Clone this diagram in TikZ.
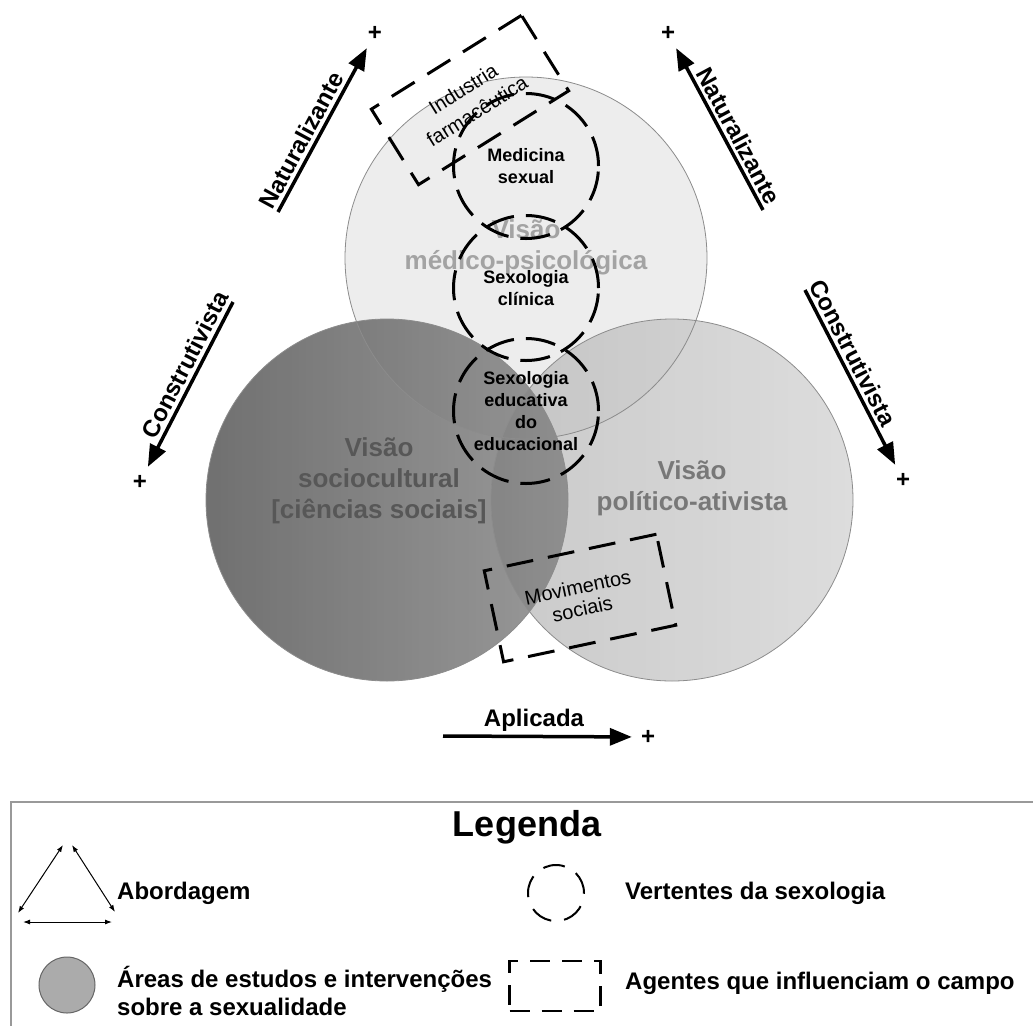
\documentclass[tikz,border=0pt]{standalone}
\usepackage{fontspec}
\setmainfont{Liberation Sans}
\usetikzlibrary{arrows.meta}
\definecolor{rim}{gray}{0.55}
\tikzset{
  area/.style={circle, minimum size=362pt, inner sep=0pt},
  vertente/.style={circle, draw, line width=3pt, dash pattern=on 30pt off 12pt, minimum size=145pt, inner sep=0pt, align=center, font=\fontsize{18}{22}\selectfont\bfseries},
  agente/.style={draw, line width=3pt, dash pattern=on 27pt off 15pt, align=center},
  eixo/.style={line width=3.5pt, -{Triangle[length=22pt,width=17pt]}, shorten >=9pt},
  rotulo/.style={font=\fontsize{24}{24}\selectfont\bfseries},
  mais/.style={font=\fontsize{24}{24}\selectfont\bfseries, inner sep=0pt},
  visao/.style={align=center, font=\fontsize{26}{31}\selectfont\bfseries},
  legenda/.style={anchor=west, align=left, inner sep=0pt, font=\fontsize{24}{28}\selectfont\bfseries},
  tri/.style={line width=1pt, {Latex[length=7pt,width=5pt]}-{Latex[length=7pt,width=5pt]}},
}
\begin{document}
\begin{tikzpicture}[x=1pt, y=-1pt]
      \useasboundingbox (0,0) rectangle (1033,1026);
      \node[area, fill=black!7] (medpsi) at (526,258) {};
      \node[area, left color=black!28, right color=black!18, fill opacity=0.75] (polit) at (672,500) {};
      \node[area, left color=black!70, right color=black!50, fill opacity=0.8] (socio) at (387,500) {};
      \begin{scope}[draw=rim, line width=0.8pt]
        \draw (medpsi.center) circle (181);
        \draw (socio.center) circle (181);
        \draw (polit.center) circle (181);
      \end{scope}
      \node[visao, text=black!36] (tmedpsi) at (526,247) {Visão\\médico-psicológica};
      \node[visao, text=black!66] (tsocio) at (379,481) {Visão\\sociocultural\\{[}ciências sociais{]}};
      \node[visao, text=black!53] (tpolit) at (692,488) {Visão\\político-ativista};
      \node[vertente] (medsex) at (526,166) {Medicina\\sexual};
      \node[vertente] (clin) at (526,288) {Sexologia\\clínica};
      \node[vertente] (educ) at (526,411) {Sexologia\\educativa\\do\\educacional};
      \node[agente, rotate=32, minimum width=177pt, minimum height=89pt, font=\fontsize{20}{26}\selectfont] (ind) at (470,100) {Industria\\farmacêutica};
      \node[agente, rotate=12, minimum width=176pt, minimum height=93pt, font=\fontsize{20}{22}\selectfont] (mov) at (580,598) {Movimentos\\sociais};
      \draw
        (375,33) node[mais] (p1){+}
        (140,482) node[mais] (p2){+}
        (668,33) node[mais] (p3){+}
        (903,480) node[mais] (p4){+}
        (648,737) node[mais] (p5){+};
      \coordinate (e1) at (278,212);
      \coordinate (e2) at (233,302);
      \coordinate (e3) at (763,210);
      \coordinate (e4) at (805,290);
      \coordinate (e5) at (443,736);
      \begin{scope}[eixo]
        \draw (e1) to node[rotulo, sloped, above, pos=0.38] (l1) {Naturalizante} (p1);
        \draw (e2) to node[rotulo, sloped, above, pos=0.40] (l2) {Construtivista} (p2);
        \draw (e3) to node[rotulo, sloped, above, pos=0.40] (l3) {Naturalizante} (p3);
        \draw (e4) to node[rotulo, sloped, above, pos=0.38] (l4) {Construtivista} (p4);
        \draw (e5) to node[rotulo, above, pos=0.46] (l5) {Aplicada} (p5);
      \end{scope}
      \draw[draw=black!40, line width=2.5pt] (1033,802) -| (11,1026);
      \node[font=\fontsize{36}{36}\selectfont\bfseries] (leg) at (527,827) {Legenda};
      \coordinate (t1) at (63,845);
      \coordinate (t2) at (72,845);
      \coordinate (t3) at (18,913);
      \coordinate (t4) at (115,912);
      \coordinate (t5) at (23,922);
      \coordinate (t6) at (112,922);
      \begin{scope}[tri]
        \draw (t1) to (t3);
        \draw (t2) to (t4);
        \draw (t5) to (t6);
      \end{scope}
      \node[circle, draw=black!60, line width=1pt, fill=black!33, minimum size=56pt] (lgarea) at (67,985) {};
      \node[circle, draw, line width=2pt, dash pattern=on 22pt off 13pt, minimum size=56pt] (lgvert) at (556,893) {};
      \node[draw, line width=2.5pt, dash pattern=on 20pt off 12pt, minimum width=91pt, minimum height=50pt] (lgagent) at (555,986) {};
      \node[legenda] (lab) at (117,893) {Abordagem};
      \node[legenda] (lareas) at (117,991) {Áreas de estudos e intervenções\\sobre a sexualidade};
      \node[legenda] (lvert) at (625,893) {Vertentes da sexologia};
      \node[legenda] (lagent) at (625,983) {Agentes que influenciam o campo};
    \end{tikzpicture}
\end{document}
